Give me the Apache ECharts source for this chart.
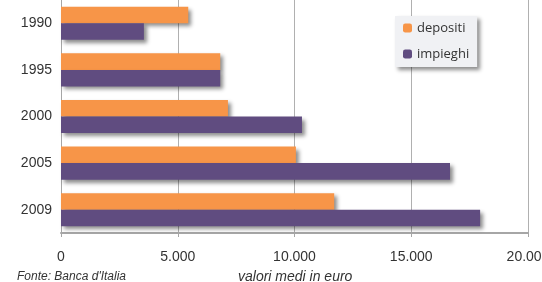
<!DOCTYPE html>
<html><head><meta charset="utf-8">
<script src="https://cdn.jsdelivr.net/npm/echarts@6/dist/echarts.min.js"></script>
<style>html,body{margin:0;padding:0;background:#fff}#c{width:542px;height:282px}</style>
</head><body><div id="c"></div>
<script>
const categories = ['1990','1995','2000','2005','2009'];
const depositi = [5450, 6820, 7150, 10060, 11700];
const impieghi = [3550, 6820, 10320, 16660, 17950];
const xTicks = [0, 5000, 10000, 15000, 20000];

const chart = echarts.init(document.getElementById('c'));
const shadow = {shadowColor:'rgba(0,0,0,0.45)', shadowBlur:4, shadowOffsetX:3, shadowOffsetY:3};
chart.setOption({
  animation:false,
  textStyle:{fontFamily:'Liberation Sans, Arial, sans-serif'},
  grid:{left:61, right:14, top:0, bottom:49, outerBoundsMode:'none', containLabel:false},
  legend:{
    orient:'vertical', left:395, top:16, itemWidth:9, itemHeight:9, itemGap:12,
    padding:[5,8,6,8],
    backgroundColor:'#f0f1f4', shadowColor:'rgba(0,0,0,0.45)', shadowBlur:4, shadowOffsetX:3, shadowOffsetY:3,
    textStyle:{fontFamily:'Open Sans, sans-serif', fontSize:13, lineHeight:14, color:'#333'},
    data:['depositi','impieghi']
  },
  xAxis:{
    type:'value', min:0, max:20000, interval:5000,
    axisLine:{show:true, lineStyle:{color:'#a6a6a6', width:2}},
    axisTick:{show:true, length:4, lineStyle:{color:'#a6a6a6'}},
    splitLine:{show:true, lineStyle:{color:'#b0b0b0', width:1}},
    axisLabel:{fontSize:14, color:'#333', margin:17, hideOverlap:false,
      alignMinLabel:'center', alignMaxLabel:'center',
      formatter: v => xTicks.indexOf(v) === 0 ? '0' : (v/1000)+'.000'}
  },
  yAxis:{
    type:'category', data:categories, inverse:true,
    axisLine:{show:true, lineStyle:{color:'#a6a6a6', width:1}},
    axisTick:{show:false},
    axisLabel:{fontSize:14, color:'#333', margin:9}
  },
  series:[
    {name:'depositi', type:'bar', data:depositi, barGap:'0%', barCategoryGap:'29%',
     itemStyle:Object.assign({color:'#f79548'}, shadow)},
    {name:'impieghi', type:'bar', data:impieghi, barGap:'0%', barCategoryGap:'29%',
     itemStyle:Object.assign({color:'#604c80'}, shadow)}
  ],
  graphic:[
    {type:'text', left:17, top:271, style:{text:"Fonte: Banca d'Italia", font:'italic 12px Liberation Sans, Arial, sans-serif', fill:'#333'}},
    {type:'text', left:238, top:270, style:{text:'valori medi in euro', font:'italic 14px Liberation Sans, Arial, sans-serif', fill:'#333'}}
  ]
});
</script></body></html>
